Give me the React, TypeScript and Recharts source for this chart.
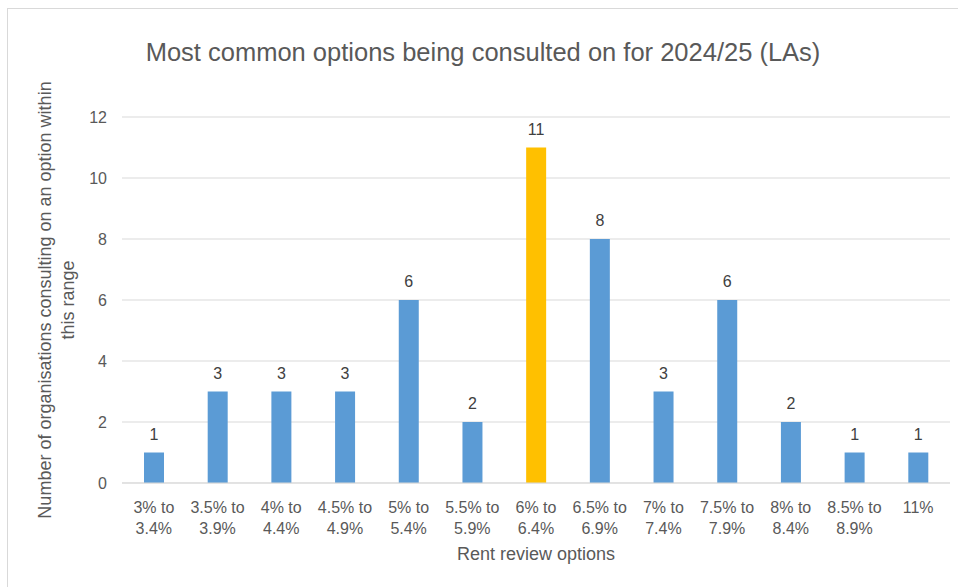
import React from 'react';
import { BarChart, Bar, XAxis, YAxis, CartesianGrid, LabelList, Cell, Label } from 'recharts';

const categories = [
  '3% to 3.4%', '3.5% to 3.9%', '4% to 4.4%', '4.5% to 4.9%', '5% to 5.4%',
  '5.5% to 5.9%', '6% to 6.4%', '6.5% to 6.9%', '7% to 7.4%', '7.5% to 7.9%',
  '8% to 8.4%', '8.5% to 8.9%', '11%',
];
const counts = [1, 3, 3, 3, 6, 2, 11, 8, 3, 6, 2, 1, 1];
const highlightCategory = '6% to 6.4%';
const yTicks = [0, 2, 4, 6, 8, 10, 12];

const title = 'Most common options being consulted on for 2024/25 (LAs)';
const xTitle = 'Rent review options';
const yTitleLines = ['Number of organisations consulting on an option within', 'this range'];

const data = categories.map((c, i) => ({ category: c, value: counts[i] }));

const FONT = "'Liberation Sans', Arial, sans-serif";
const TEXT = '#595959';
const BLUE = '#5B9BD5';
const GOLD = '#FFC000';

const XTick = (props: any) => {
  const { x, y, payload } = props;
  const label: string = payload.value;
  const idx = label.indexOf(' to ');
  const lines = idx >= 0 ? [label.slice(0, idx + 3), label.slice(idx + 4)] : [label];
  return (
    <g transform={`translate(${x},${y})`}>
      {lines.map((l, i) => (
        <text key={i} x={0} y={22 + i * 21} textAnchor="middle" fill={TEXT} fontSize={16} fontFamily={FONT}>
          {l}
        </text>
      ))}
    </g>
  );
};

const YTitle = (props: any) => {
  const vb = props.viewBox || { x: 0, y: 0, width: 0, height: 0 };
  const cy = vb.y + vb.height / 2;
  const xs = [51, 74];
  return (
    <g>
      {yTitleLines.map((l, i) => (
        <text
          key={i}
          x={xs[i]}
          y={cy}
          transform={`rotate(-90, ${xs[i]}, ${cy})`}
          textAnchor="middle"
          fill={TEXT}
          fontSize={18}
          fontFamily={FONT}
        >
          {l}
        </text>
      ))}
    </g>
  );
};

export default function App() {
  return (
    <div style={{ position: 'absolute', left: 0, top: 0, width: 958, height: 587, background: '#fff', overflow: 'hidden' }}>
      <div
        style={{
          position: 'absolute', left: 7, top: 8, width: 1000, height: 700,
          border: '1px solid #D9D9D9', boxSizing: 'border-box',
        }}
      />
      <div
        style={{
          position: 'absolute', left: 0, top: 36, width: 966, textAlign: 'center',
          fontFamily: FONT, fontSize: 25.5, color: TEXT, lineHeight: '32px',
        }}
      >
        {title}
      </div>
      <div style={{ position: 'absolute', left: 0, top: 0 }}>
        <BarChart
          width={958}
          height={587}
          data={data}
          margin={{ top: 117, right: 8, bottom: 0, left: 50 }}
          barSize={20}
        >
          <CartesianGrid vertical={false} stroke="#D9D9D9" strokeWidth={1} />
          <XAxis
            dataKey="category"
            interval={0}
            height={104}
            tickLine={false}
            axisLine={{ stroke: '#D9D9D9', strokeWidth: 1 }}
            tick={<XTick />}
          >
            <Label value={xTitle} position="insideBottom" offset={27} fill={TEXT} fontSize={18} fontFamily={FONT} />
          </XAxis>
          <YAxis
            width={72}
            domain={[0, 12]}
            ticks={yTicks}
            interval={0}
            tickLine={false}
            axisLine={false}
            tickMargin={9}
            tick={{ fill: TEXT, fontSize: 16, fontFamily: FONT }}
          >
            <Label content={<YTitle />} />
          </YAxis>
          <Bar dataKey="value" isAnimationActive={false}>
            {data.map((d, i) => (
              <Cell key={i} fill={d.category === highlightCategory ? GOLD : BLUE} />
            ))}
            <LabelList dataKey="value" position="top" offset={13} fill="#404040" fontSize={16} fontFamily={FONT} />
          </Bar>
        </BarChart>
      </div>
    </div>
  );
}
